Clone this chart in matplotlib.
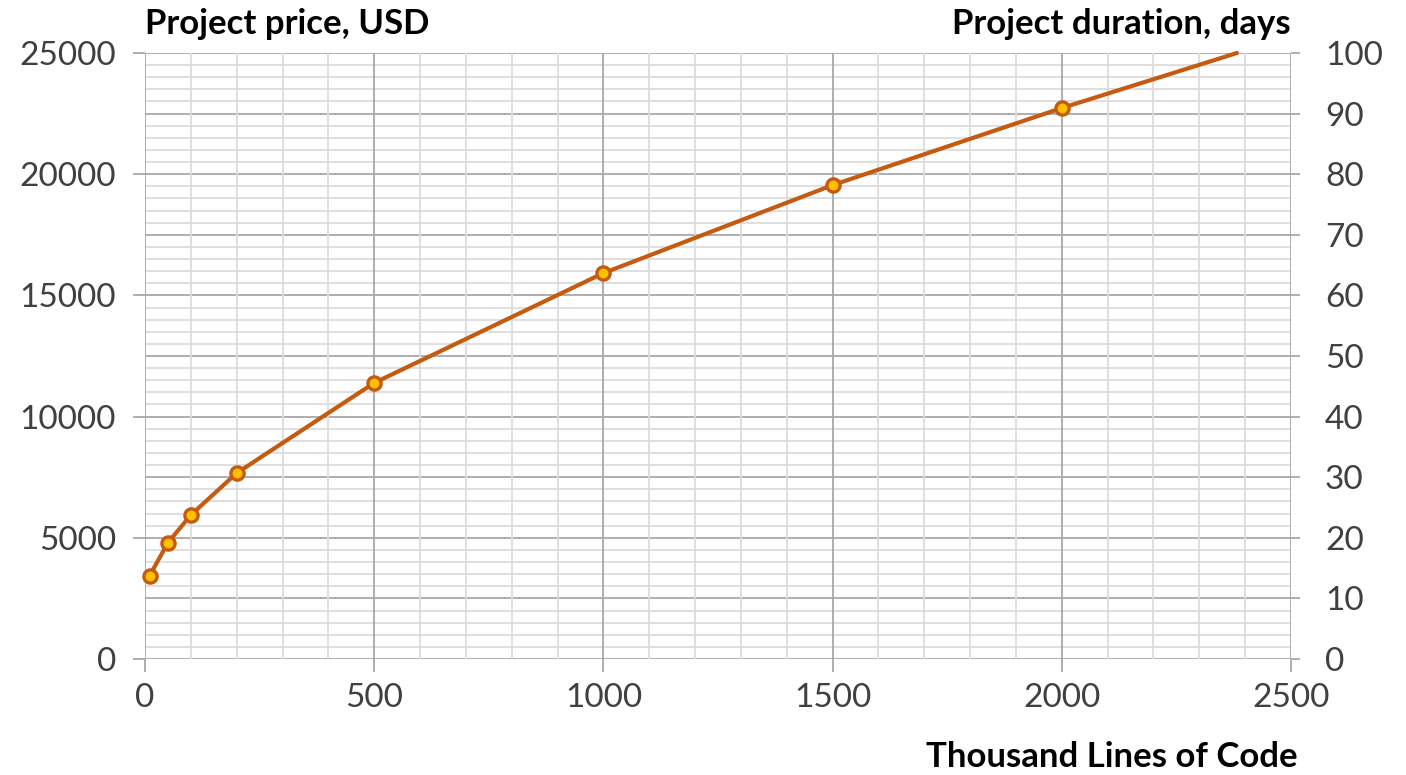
import matplotlib

matplotlib.use("Agg")
import matplotlib.pyplot as plt
from matplotlib.ticker import MultipleLocator

plt.rcParams["font.family"] = ["Lato", "DejaVu Sans"]

# thousand lines of code vs project price (USD); days axis is price / 250
kloc = [10, 50, 100, 200, 500, 1000, 1500, 2000, 2382]
price_usd = [3430, 4800, 5940, 7670, 11390, 15920, 19550, 22730, 25000]

LINE = "#C55A11"
FILL = "#FFC000"
MAJ = "#a8a8a8"
MIN = "#dcdcdc"

fig = plt.figure(figsize=(14.06, 7.75), dpi=100)
ax = fig.add_axes([145 / 1406, 1 - 659 / 775, (1291 - 145) / 1406, (659 - 53) / 775])
ax2 = ax.twinx()

ax.set_xlim(0, 2500)
ax.set_ylim(0, 25000)
ax2.set_ylim(0, 100)

ax.xaxis.set_major_locator(MultipleLocator(500))
ax.xaxis.set_minor_locator(MultipleLocator(100))
ax.yaxis.set_major_locator(MultipleLocator(5000))
ax2.yaxis.set_major_locator(MultipleLocator(10))
ax2.yaxis.set_minor_locator(MultipleLocator(2))

ax.grid(axis="x", which="major", color=MAJ, lw=1.3)
ax.grid(axis="x", which="minor", color=MIN, lw=1.3)
ax2.grid(axis="y", which="major", color=MAJ, lw=1.3)
ax2.grid(axis="y", which="minor", color=MIN, lw=1.3)

# line + vertical grid above the horizontal grid of the twin
ax.set_zorder(ax2.get_zorder() + 1)
ax.patch.set_visible(False)

ax.plot(kloc, price_usd, color=LINE, lw=3, marker="o", ms=9.5,
        mfc=FILL, mec=LINE, mew=2.4, markevery=list(range(len(kloc) - 1)),
        solid_capstyle="round", clip_on=False, zorder=3)

for a in (ax, ax2):
    for s in a.spines.values():
        s.set_visible(False)

ax.tick_params(axis="x", which="major", direction="out", length=9.5, width=1.3,
               color=MAJ, labelsize=24, labelcolor="#404040", pad=8)
ax.tick_params(axis="x", which="minor", length=0)
ax.tick_params(axis="y", direction="out", length=9, width=1.3,
               color=MAJ, labelsize=24, labelcolor="#404040", pad=12)
ax2.tick_params(axis="y", which="major", direction="out", length=6.5, width=1.3,
                color=MAJ, labelsize=24, labelcolor="#404040", pad=18)
ax2.tick_params(axis="y", which="minor", length=0)

fig.text(145 / 1406, 1 - 24 / 775, "Project price, USD", fontsize=25,
         fontweight="bold", ha="left", va="center")
fig.text(1291 / 1406, 1 - 24 / 775, "Project duration, days", fontsize=25,
         fontweight="bold", ha="right", va="center")
fig.text(1298 / 1406, 1 - 757 / 775, "Thousand Lines of Code", fontsize=25,
         fontweight="bold", ha="right", va="center")

fig.savefig("out.png", dpi=100)
